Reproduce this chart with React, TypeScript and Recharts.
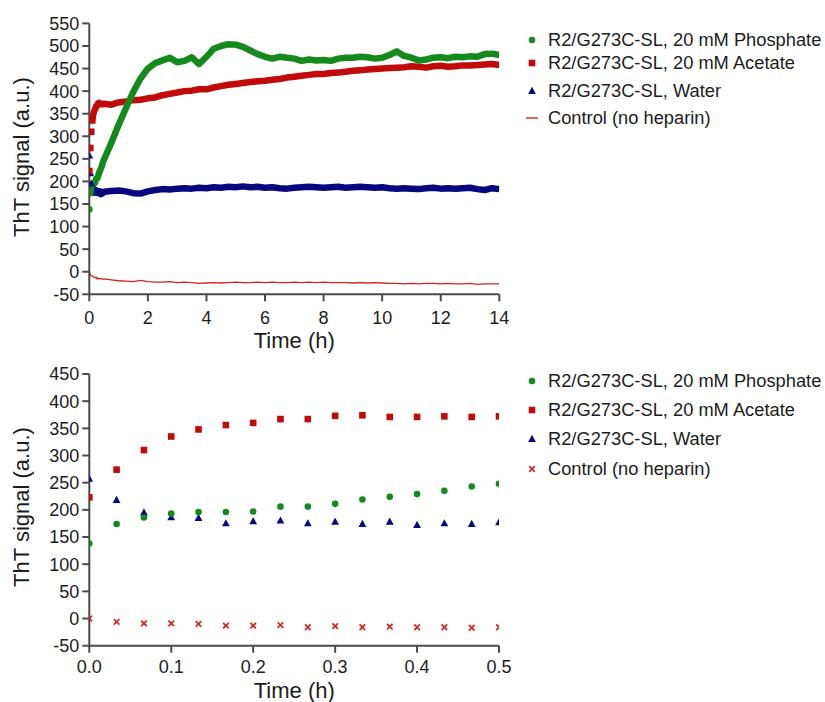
import React from 'react';
import { LineChart, Line, XAxis, YAxis, Legend } from 'recharts';

const FONT = '"Liberation Sans", Arial, Helvetica, sans-serif';
const GREEN = '#148a1c';
const RED = '#c20a0a';
const BLUE = '#08087e';
const CTRL = '#d32222';
const AXIS = '#4a4a4a';
const TEXT = '#1c1c1c';

const seriesNames = [
  'R2/G273C-SL, 20 mM Phosphate',
  'R2/G273C-SL, 20 mM Acetate',
  'R2/G273C-SL, Water',
  'Control (no heparin)',
];

// first half hour, one reading every 2 min (h)
const earlyTimes = [0, 0.0333, 0.0667, 0.1, 0.1333, 0.1667, 0.2, 0.2333, 0.2667, 0.3, 0.3333, 0.3667, 0.4, 0.4333, 0.4667, 0.5];
const phosphateEarly = [138, 174, 186, 193, 196, 196, 197, 206, 206, 211, 219, 224, 229, 235, 243, 248];
const acetateEarly = [223, 274, 310, 335, 348, 356, 360, 367, 367, 373, 374, 371, 371, 372, 371, 372];
const waterEarly = [257, 218, 195, 186, 185, 175, 179, 180, 175, 178, 174, 178, 172, 175, 174, 177];
const controlEarly = [0, -6, -9, -9, -10, -13, -13, -12, -16, -14, -16, -15, -16, -16, -17, -16];

// remainder of the 14 h run
const lateTimes = [0.75, 1, 1.25, 1.5, 1.75, 2, 2.25, 2.5, 2.75, 3, 3.25, 3.5, 3.75, 4, 4.25, 4.5, 4.75, 5, 5.25, 5.5, 5.75, 6, 6.25, 6.5, 6.75, 7, 7.25, 7.5, 7.75, 8, 8.25, 8.5, 8.75, 9, 9.25, 9.5, 9.75, 10, 10.25, 10.5, 10.75, 11, 11.25, 11.5, 11.75, 12, 12.25, 12.5, 12.75, 13, 13.25, 13.5, 13.75, 14];
const phosphateLate = [285, 325, 362, 398, 428, 450, 462, 468, 474, 464, 467, 475, 460, 476, 494, 500, 504, 503, 498, 490, 482, 476, 472, 476, 474, 472, 467, 470, 468, 469, 467, 472, 474, 474, 476, 475, 472, 474, 480, 488, 478, 474, 468, 470, 474, 475, 473, 476, 475, 477, 476, 482, 483, 480];
const acetateLate = [370, 375, 377, 380, 381, 384, 386, 391, 394, 397, 400, 401, 404, 404, 408, 411, 414, 416, 418, 420, 422, 423, 425, 427, 430, 432, 434, 436, 438, 438, 440, 441, 443, 445, 446, 448, 449, 450, 451, 452, 453, 455, 454, 452, 455, 456, 454, 455, 457, 457, 458, 459, 460, 458];
const waterLate = [179, 180, 178, 174, 173, 178, 181, 183, 182, 184, 185, 184, 186, 185, 187, 186, 188, 187, 189, 187, 188, 186, 187, 185, 184, 186, 187, 188, 187, 186, 187, 188, 186, 187, 188, 187, 186, 187, 185, 184, 185, 184, 183, 185, 186, 184, 185, 184, 185, 186, 183, 181, 185, 183];
const controlLate = [-18, -20, -21, -22, -19, -22, -23, -23, -22, -24, -23, -24, -26, -25, -24, -25, -24, -23, -24, -24, -23, -24, -23, -24, -24, -23, -24, -23, -24, -23, -24, -24, -24, -25, -24, -25, -24, -25, -26, -26, -27, -26, -27, -26, -26, -27, -26, -27, -27, -26, -28, -27, -27, -27];

const topXTicks = [0, 2, 4, 6, 8, 10, 12, 14];
const topYTicks = [-50, 0, 50, 100, 150, 200, 250, 300, 350, 400, 450, 500, 550];
const bottomXTicks = [0, 0.1, 0.2, 0.3, 0.4, 0.5];
const bottomYTicks = [-50, 0, 50, 100, 150, 200, 250, 300, 350, 400, 450];

type Pt = { t: number; v: number };
const toPoints = (ts: number[], vs: number[]): Pt[] => ts.map((t, i) => ({ t, v: vs[i] }));

const topTimes = [...earlyTimes, ...lateTimes];
const topPhosphate = toPoints(topTimes, [...phosphateEarly, ...phosphateLate]);
const topAcetate = toPoints(topTimes, [...acetateEarly, ...acetateLate]);
const topWater = toPoints(topTimes, [...waterEarly, ...waterLate]);
const topControl = toPoints(topTimes, [...controlEarly, ...controlLate]);

const botPhosphate = toPoints(earlyTimes, phosphateEarly);
const botAcetate = toPoints(earlyTimes, acetateEarly);
const botWater = toPoints(earlyTimes, waterEarly);
const botControl = toPoints(earlyTimes, controlEarly);

type Kind = 'circle' | 'square' | 'triangle' | 'cross' | 'line';

function shape(kind: Kind, cx: number, cy: number, color: string, key?: any) {
  if (kind === 'circle') return <circle key={key} cx={cx} cy={cy} r={3.3} fill={color} />;
  if (kind === 'square') return <rect key={key} x={cx - 3.3} y={cy - 3.3} width={6.6} height={6.6} fill={color} />;
  if (kind === 'triangle')
    return <polygon key={key} points={`${cx},${cy - 4.2} ${cx + 3.9},${cy + 2.9} ${cx - 3.9},${cy + 2.9}`} fill={color} />;
  if (kind === 'cross')
    return (
      <g key={key} stroke={color} strokeWidth={1.7}>
        <line x1={cx - 2.8} y1={cy - 2.8} x2={cx + 2.8} y2={cy + 2.8} />
        <line x1={cx - 2.8} y1={cy + 2.8} x2={cx + 2.8} y2={cy - 2.8} />
      </g>
    );
  return <line key={key} x1={cx - 6} y1={cy} x2={cx + 6} y2={cy} stroke={color} strokeWidth={1.4} />;
}

const dotFn = (kind: Kind, color: string) => (p: any) => {
  if (p == null || p.cx == null || p.cy == null) return <g key={p ? p.index : 'none'} />;
  return shape(kind, p.cx, p.cy, color, `${kind}-${p.index}`);
};

const tickStyle = { fontSize: 18, fill: TEXT, fontFamily: FONT };

function XTitle(props: any) {
  const { px, py } = props;
  return (
    <text x={px} y={py} dy="0.35em" textAnchor="middle" fontSize={22} fill={TEXT} fontFamily={FONT}>
      Time (h)
    </text>
  );
}

function YTitle(props: any) {
  const { px, py } = props;
  return (
    <text
      x={px}
      y={py}
      dy="0.35em"
      textAnchor="middle"
      fontSize={22}
      fill={TEXT}
      fontFamily={FONT}
      transform={`rotate(-90, ${px}, ${py})`}
    >
      ThT signal (a.u.)
    </text>
  );
}

function LegendRows(props: any) {
  const { rows, kinds } = props;
  const colors = [GREEN, RED, BLUE, CTRL];
  return (
    <div style={{ position: 'relative', width: 825, height: 1 }}>
      {seriesNames.map((name, i) => (
        <div
          key={name}
          style={{
            position: 'absolute',
            left: 522,
            top: rows[i] - 11,
            height: 22,
            lineHeight: '22px',
            whiteSpace: 'nowrap',
            fontFamily: FONT,
            fontSize: 18.3,
            color: TEXT,
            display: 'flex',
            alignItems: 'center',
          }}
        >
          <svg width={20} height={22} style={{ display: 'block' }}>
            {shape(kinds[i], 10, 11, colors[i])}
          </svg>
          <span style={{ marginLeft: 6 }}>{name}</span>
        </div>
      ))}
    </div>
  );
}

const axisLine = { stroke: AXIS, strokeWidth: 2 };

export default function App() {
  return (
    <div style={{ position: 'absolute', left: 0, top: 0, width: 825, height: 702, background: '#fff' }}>
      <div style={{ position: 'absolute', left: 0, top: 0 }}>
        <LineChart width={825} height={360} margin={{ top: 23.4, right: 325.7, bottom: 5.7, left: 0 }}>
          <XAxis
            type="number"
            dataKey="t"
            domain={[0, 14]}
            ticks={topXTicks}
            interval={0}
            height={60}
            tickSize={7}
            tickMargin={10}
            axisLine={axisLine}
            tickLine={axisLine}
            tick={tickStyle}
            allowDataOverflow
            label={<XTitle px={294.3} py={340.7} />}
          />
          <YAxis
            type="number"
            dataKey="v"
            domain={[-50, 550]}
            ticks={topYTicks}
            interval={0}
            width={89.3}
            tickSize={7}
            tickMargin={3}
            axisLine={axisLine}
            tickLine={axisLine}
            tick={tickStyle}
            allowDataOverflow
            label={<YTitle px={21.5} py={157} />}
          />
          <Legend
            layout="horizontal"
            verticalAlign="middle"
            align="center"
            wrapperStyle={{ left: 0, top: 0, width: 825, height: 1 }}
            content={() => <LegendRows rows={[39.7, 62.7, 90.7, 118]} kinds={['circle', 'square', 'triangle', 'line']} />}
          />
          <Line data={topControl} dataKey="v" stroke={CTRL} strokeWidth={1.3} dot={false} isAnimationActive={false} legendType="none" />
          <Line data={topWater.slice(2)} dataKey="v" stroke={BLUE} strokeWidth={6.5} strokeLinejoin="round" dot={false} isAnimationActive={false} legendType="none" />
          <Line data={topWater.slice(0, 3)} dataKey="v" stroke="none" dot={dotFn('triangle', BLUE)} isAnimationActive={false} legendType="none" />
          <Line data={topAcetate.slice(3)} dataKey="v" stroke={RED} strokeWidth={6.5} strokeLinejoin="round" dot={false} isAnimationActive={false} legendType="none" />
          <Line data={topAcetate.slice(0, 4)} dataKey="v" stroke="none" dot={dotFn('square', RED)} isAnimationActive={false} legendType="none" />
          <Line data={topPhosphate.slice(1)} dataKey="v" stroke={GREEN} strokeWidth={6.5} strokeLinejoin="round" dot={false} isAnimationActive={false} legendType="none" />
          <Line data={topPhosphate.slice(0, 2)} dataKey="v" stroke="none" dot={dotFn('circle', GREEN)} isAnimationActive={false} legendType="none" />
        </LineChart>
      </div>
      <div style={{ position: 'absolute', left: 0, top: 350 }}>
        <LineChart width={825} height={352} margin={{ top: 24, right: 326, bottom: 6.3, left: 0 }}>
          <XAxis
            type="number"
            dataKey="t"
            domain={[0, 0.5]}
            ticks={bottomXTicks}
            interval={0}
            height={50}
            tickSize={7}
            tickMargin={8}
            tickFormatter={(v: number) => v.toFixed(1)}
            axisLine={axisLine}
            tickLine={axisLine}
            tick={tickStyle}
            allowDataOverflow
            label={<XTitle px={294.3} py={340} />}
          />
          <YAxis
            type="number"
            dataKey="v"
            domain={[-50, 450]}
            ticks={bottomYTicks}
            interval={0}
            width={89.3}
            tickSize={7}
            tickMargin={3}
            axisLine={axisLine}
            tickLine={axisLine}
            tick={tickStyle}
            allowDataOverflow
            label={<YTitle px={21.5} py={157} />}
          />
          <Legend
            layout="horizontal"
            verticalAlign="middle"
            align="center"
            wrapperStyle={{ left: 0, top: 0, width: 825, height: 1 }}
            content={() => <LegendRows rows={[30.5, 60, 89, 119]} kinds={['circle', 'square', 'triangle', 'cross']} />}
          />
          <Line data={botControl} dataKey="v" stroke="none" dot={dotFn('cross', CTRL)} isAnimationActive={false} legendType="none" />
          <Line data={botWater} dataKey="v" stroke="none" dot={dotFn('triangle', BLUE)} isAnimationActive={false} legendType="none" />
          <Line data={botAcetate} dataKey="v" stroke="none" dot={dotFn('square', RED)} isAnimationActive={false} legendType="none" />
          <Line data={botPhosphate} dataKey="v" stroke="none" dot={dotFn('circle', GREEN)} isAnimationActive={false} legendType="none" />
        </LineChart>
      </div>
    </div>
  );
}
